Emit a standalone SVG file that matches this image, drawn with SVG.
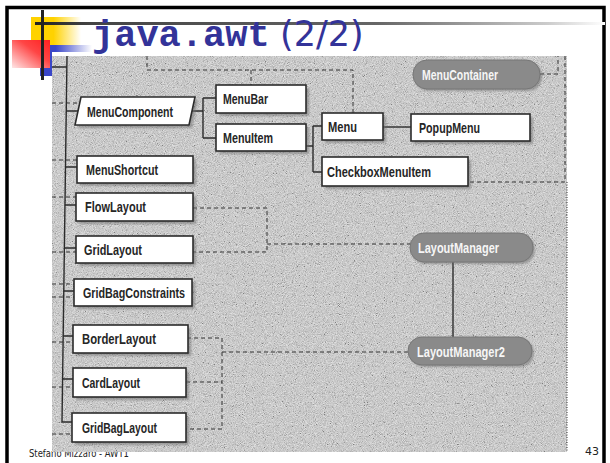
<svg xmlns="http://www.w3.org/2000/svg" width="610" height="463" viewBox="0 0 610 463">
<defs>
<linearGradient id="gLine" x1="35" y1="0" x2="605" y2="0" gradientUnits="userSpaceOnUse">
<stop offset="0" stop-color="#222"/><stop offset="0.1" stop-color="#444"/><stop offset="0.6" stop-color="#666"/><stop offset="0.9" stop-color="#ccc"/><stop offset="1" stop-color="#fff"/>
</linearGradient>
<linearGradient id="gYel" x1="0" y1="0" x2="1" y2="0">
<stop offset="0" stop-color="#ffd200"/><stop offset="0.45" stop-color="#ffd200"/><stop offset="1" stop-color="#ffffff"/>
</linearGradient>
<linearGradient id="gBlue" x1="0" y1="0" x2="1" y2="0">
<stop offset="0" stop-color="#3a46c8"/><stop offset="0.3" stop-color="#3a46c8"/><stop offset="1" stop-color="#ffffff"/>
</linearGradient>
<linearGradient id="gRed" x1="1" y1="0" x2="0" y2="1">
<stop offset="0" stop-color="#ff2020"/><stop offset="0.4" stop-color="#ff4545"/><stop offset="1" stop-color="#ffe6e6"/>
</linearGradient>
<filter id="noise" x="0" y="0" width="1" height="1" filterUnits="objectBoundingBox">
<feTurbulence type="fractalNoise" baseFrequency="1.1" numOctaves="2" seed="4"/>
<feColorMatrix type="matrix" values="0.8 0.8 0.8 0 -0.7  0.8 0.8 0.8 0 -0.7  0.8 0.8 0.8 0 -0.7  0 0 0 0 0.4"/>
</filter>
<filter id="blur" x="-20%" y="-20%" width="140%" height="140%"><feGaussianBlur stdDeviation="1.2"/></filter>
</defs>
<style>
.box{fill:#fff;stroke:#2b2b2b;stroke-width:1.6}
.sh{fill:#6e6e6e;opacity:0.55;filter:url(#blur)}
.pill{fill:#8a8a8a;stroke:#777;stroke-width:1}
.lbl{font-family:"Liberation Sans",Arial,sans-serif;font-weight:bold;font-size:14.5px;fill:#262626}
.wl{font-family:"Liberation Sans",Arial,sans-serif;font-weight:bold;font-size:14.5px;fill:#f6f6f6}
.solid{fill:none;stroke:#2b2b2b;stroke-width:1.4}
.dash{fill:none;stroke:#333;stroke-width:1;stroke-dasharray:4 3}
</style>
<rect x="0" y="0" width="610" height="463" fill="#fff"/>
<rect x="7" y="7.5" width="597" height="470" fill="none" stroke="#000" stroke-width="3.5"/>

<g id="decoration">
<rect x="31" y="17" width="50" height="28" fill="url(#gYel)"/>
<rect x="40" y="45" width="52" height="7" fill="url(#gBlue)"/>
<rect x="40" y="45" width="12" height="31" fill="#3a46c8"/>
<rect x="12" y="40" width="38" height="28" fill="url(#gRed)"/>
<rect x="35" y="22" width="570" height="3" fill="url(#gLine)"/>
<rect x="41" y="10" width="3" height="70" fill="#222"/>
</g>

<g id="title">
<text x="92" y="46" font-family="'Liberation Mono','Courier New',monospace" font-weight="bold" font-size="37" fill="#333399">java.awt</text>
<text x="280" y="46" font-family="'DejaVu Sans',Tahoma,sans-serif" font-size="35" fill="#333399">(2/2)</text>
</g>

<text x="29" y="457" font-family="'DejaVu Sans',Tahoma,sans-serif" font-size="11" fill="#222" textLength="100" lengthAdjust="spacingAndGlyphs">Stefano Mizzaro - AWT1</text>
<text x="585" y="455" font-family="'DejaVu Sans',Tahoma,sans-serif" font-size="11" fill="#222">43</text>

<g id="scan">
<rect x="52" y="56" width="515" height="396" fill="#d2d2d2"/>
<rect x="52" y="56" width="515" height="396" fill="#000" filter="url(#noise)"/>
<line x1="567" y1="182" x2="567" y2="452" stroke="#333" stroke-width="1" stroke-dasharray="1 1.5"/>
</g>

<g id="connectors">
<path class="solid" d="M67,56 L62,422 L72,422 M52,67 L67,67"/>
<path class="solid" d="M66.2,111 H78 M65.5,167 H77 M65,205 H76 M64.4,248 H76 M63.8,291 H74 M63.2,336 H73 M62.6,379 H73"/>
<path class="solid" d="M192,111 H203 M203,98 V138 M203,98 H216 M203,138 H216"/>
<path class="solid" d="M306,146 H313 M313,126 V172 M313,126 H322 M313,172 H322"/>
<path class="solid" d="M383,127 H411"/>
<path class="solid" d="M453,262 V337"/>
<path class="dash" d="M52,103 H80 M52,160 H77 M52,197 H76 M52,252 H76 M52,284 H74 M52,297 H74 M52,342 H73 M52,387 H73 M52,434 H72"/>
<path class="dash" d="M147,56 V70 H353 V113 M251,70 V85"/>
<path class="dash" d="M540,74 H558 V56"/>
<path class="dash" d="M565,56 V182 H468"/>
<path class="dash" d="M193,208 H267 V252 H193 M267,244 H410"/>
<path class="dash" d="M187,338 H222 V429 H186 M186,382 H222 M222,352 H408"/>
</g>

<g id="MenuComponent">
<polygon class="sh" points="84,100 198,100 192,128 78,128"/>
<polygon class="box" points="81,97 195,97 189,125 75,125"/>
<text class="lbl" x="87" y="116.5" textLength="86" lengthAdjust="spacingAndGlyphs">MenuComponent</text>
</g>
<g id="MenuBar">
<rect class="sh" x="219" y="88" width="90" height="28"/>
<rect class="box" x="216" y="85" width="90" height="28"/>
<text class="lbl" x="223" y="104" textLength="45" lengthAdjust="spacingAndGlyphs">MenuBar</text>
</g>
<g id="MenuItem">
<rect class="sh" x="219" y="127" width="90" height="27"/>
<rect class="box" x="216" y="124" width="90" height="27"/>
<text class="lbl" x="223" y="143" textLength="50" lengthAdjust="spacingAndGlyphs">MenuItem</text>
</g>
<g id="Menu">
<rect class="sh" x="325" y="116" width="61" height="27"/>
<rect class="box" x="322" y="113" width="61" height="27"/>
<text class="lbl" x="328" y="132" textLength="29" lengthAdjust="spacingAndGlyphs">Menu</text>
</g>
<g id="PopupMenu">
<rect class="sh" x="414" y="117" width="119" height="27"/>
<rect class="box" x="411" y="114" width="119" height="27"/>
<text class="lbl" x="419" y="133" textLength="61" lengthAdjust="spacingAndGlyphs">PopupMenu</text>
</g>
<g id="CheckboxMenuItem">
<rect class="sh" x="325" y="160" width="146" height="29"/>
<rect class="box" x="322" y="157" width="146" height="29"/>
<text class="lbl" x="327" y="177" textLength="104" lengthAdjust="spacingAndGlyphs">CheckboxMenuItem</text>
</g>
<g id="MenuShortcut">
<rect class="sh" x="80" y="159" width="116" height="27"/>
<rect class="box" x="77" y="156" width="116" height="27"/>
<text class="lbl" x="86" y="175" textLength="72" lengthAdjust="spacingAndGlyphs">MenuShortcut</text>
</g>
<g id="FlowLayout">
<rect class="sh" x="79" y="196" width="117" height="28"/>
<rect class="box" x="76" y="193" width="117" height="28"/>
<text class="lbl" x="85" y="212" textLength="61" lengthAdjust="spacingAndGlyphs">FlowLayout</text>
</g>
<g id="GridLayout">
<rect class="sh" x="79" y="239" width="117" height="27"/>
<rect class="box" x="76" y="236" width="117" height="27"/>
<text class="lbl" x="84" y="255" textLength="58" lengthAdjust="spacingAndGlyphs">GridLayout</text>
</g>
<g id="GridBagConstraints">
<rect class="sh" x="77" y="282" width="118" height="27"/>
<rect class="box" x="74" y="279" width="118" height="27"/>
<text class="lbl" x="83" y="298" textLength="102" lengthAdjust="spacingAndGlyphs">GridBagConstraints</text>
</g>
<g id="BorderLayout">
<rect class="sh" x="76" y="328" width="115" height="28"/>
<rect class="box" x="73" y="325" width="115" height="28"/>
<text class="lbl" x="82" y="344" textLength="74" lengthAdjust="spacingAndGlyphs">BorderLayout</text>
</g>
<g id="CardLayout">
<rect class="sh" x="76" y="371" width="113" height="29"/>
<rect class="box" x="73" y="368" width="113" height="29"/>
<text class="lbl" x="82" y="388" textLength="58" lengthAdjust="spacingAndGlyphs">CardLayout</text>
</g>
<g id="GridBagLayout">
<rect class="sh" x="75" y="416" width="114" height="29"/>
<rect class="box" x="72" y="413" width="114" height="29"/>
<text class="lbl" x="82" y="433" textLength="75" lengthAdjust="spacingAndGlyphs">GridBagLayout</text>
</g>
<g id="MenuContainer">
<rect class="sh" x="415" y="62" width="127" height="29" rx="14"/>
<rect class="pill" x="413" y="60" width="127" height="29" rx="14"/>
<text class="wl" x="422" y="80" textLength="76" lengthAdjust="spacingAndGlyphs">MenuContainer</text>
</g>
<g id="LayoutManager">
<rect class="sh" x="412" y="235" width="123" height="29" rx="14"/>
<rect class="pill" x="410" y="233" width="123" height="29" rx="14"/>
<text class="wl" x="418" y="253" textLength="81" lengthAdjust="spacingAndGlyphs">LayoutManager</text>
</g>
<g id="LayoutManager2">
<rect class="sh" x="410" y="339" width="124" height="28" rx="14"/>
<rect class="pill" x="408" y="337" width="124" height="28" rx="14"/>
<text class="wl" x="417" y="356.5" textLength="88" lengthAdjust="spacingAndGlyphs">LayoutManager2</text>
</g>
</svg>
